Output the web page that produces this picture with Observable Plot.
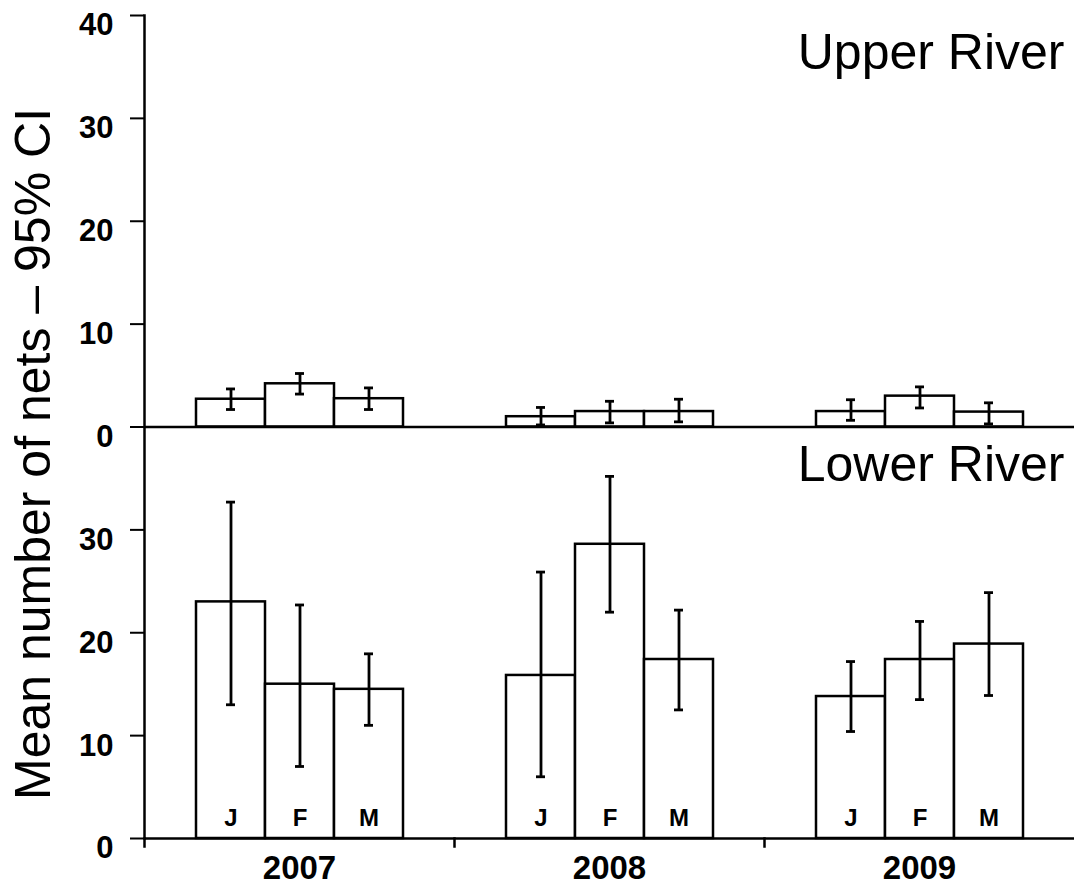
<!DOCTYPE html>
<html>
<head>
<meta charset="utf-8">
<script src="https://cdn.jsdelivr.net/npm/d3@7"></script>
<script src="https://cdn.jsdelivr.net/npm/@observablehq/plot@0.6"></script>
<style>
  html, body { margin: 0; padding: 0; background: #fff; }
</style>
</head>
<body>
<div id="chart"></div>
<script>
// ---- data ----
const years = ["2007", "2008", "2009"];
const months = ["J", "F", "M"];
const panels = ["Upper River", "Lower River"];

// order: 2007 J,F,M, 2008 J,F,M, 2009 J,F,M
const upperMean = [2.7, 4.2, 2.75, 1.0, 1.5, 1.5, 1.5, 3.0, 1.45];
const upperLo   = [1.7, 3.2, 1.7, 0.2, 0.4, 0.5, 0.65, 1.85, 0.3];
const upperHi   = [3.7, 5.2, 3.8, 1.9, 2.5, 2.7, 2.65, 3.9, 2.35];

const lowerMean = [23.0, 15.0, 14.5, 15.85, 28.6, 17.4, 13.8, 17.4, 18.9];
const lowerLo   = [13.0, 7.0, 11.0, 6.0, 22.0, 12.5, 10.4, 13.5, 13.9];
const lowerHi   = [32.7, 22.7, 17.95, 25.9, 35.2, 22.2, 17.2, 21.1, 23.9];

const upperTicks = [0, 10, 20, 30, 40];
const lowerTicks = [0, 10, 20, 30];
const panelSpan = 40; // each panel spans 0–40

// ---- build table ----
const rows = [];
function addPanel(panel, base, mean, lo, hi) {
  years.forEach((yr, i) => months.forEach((m, j) => {
    const k = i * months.length + j;
    rows.push({panel, base, year: yr, month: m, mean: mean[k], lo: lo[k], hi: hi[k]});
  }));
}
addPanel(panels[0], panelSpan, upperMean, upperLo, upperHi);
addPanel(panels[1], 0, lowerMean, lowerLo, lowerHi);

const monthRows = rows.filter(d => d.panel === panels[1]);
const labelRows = [
  {panel: panels[0], top: 2 * panelSpan, year: years[years.length - 1]},
  {panel: panels[1], top: panelSpan, year: years[years.length - 1]}
];
const allTicks = lowerTicks.concat(upperTicks.map(v => v + panelSpan));
const fmt = d => (d >= panelSpan ? d - panelSpan : d);

const font = "Liberation Sans, Arial, Helvetica, sans-serif";

const chart = Plot.plot({
  width: 1079,
  height: 891,
  marginLeft: 143,
  marginRight: 4,
  marginTop: 15,
  marginBottom: 53,
  style: {fontFamily: font, background: "#fff", color: "#000", overflow: "visible"},
  fx: {domain: years, padding: 0, label: null},
  x: {domain: months, paddingInner: 0, paddingOuter: 0.73, axis: null},
  y: {domain: [0, 2 * panelSpan]},
  marks: [
    // y axis line (leftmost facet only)
    Plot.frame({anchor: "left", facetAnchor: "left", stroke: "#000", strokeWidth: 2.5}),
    // small ticks below the x axis at the year boundaries
    Plot.frame({anchor: "left", facetAnchor: "bottom", insetTop: 823, insetBottom: -8, stroke: "#000", strokeWidth: 2.5}),
    // bars
    Plot.barY(rows, {
      fx: "year", x: "month",
      y1: d => d.base, y2: d => d.base + d.mean,
      fill: "#fff", stroke: "#000", strokeWidth: 2.5
    }),
    // error bars
    Plot.ruleX(rows, {
      fx: "year", x: "month",
      y1: d => d.base + d.lo, y2: d => d.base + d.hi,
      stroke: "#000", strokeWidth: 2.8
    }),
    Plot.tickY(rows, {
      fx: "year", x: "month", y: d => d.base + d.lo,
      insetLeft: 30, insetRight: 30, stroke: "#000", strokeWidth: 2.8
    }),
    Plot.tickY(rows, {
      fx: "year", x: "month", y: d => d.base + d.hi,
      insetLeft: 30, insetRight: 30, stroke: "#000", strokeWidth: 2.8
    }),
    // baselines
    Plot.ruleY([0, panelSpan], {stroke: "#000", strokeWidth: 2.5}),
    // month letters
    Plot.text(monthRows, {
      fx: "year", x: "month", y: 0, text: "month",
      dy: -20, fontSize: 24, fontWeight: "bold", fill: "#000"
    }),
    // panel labels
    Plot.text(labelRows, {
      fx: "year", y: "top", text: "panel", frameAnchor: "right",
      textAnchor: "end", dx: -10, dy: 37.5, fontSize: 50, fill: "#000"
    }),
    // y axis ticks
    Plot.axisY(allTicks, {
      anchor: "left", tickSize: 14, text: null, strokeWidth: 2, label: null
    }),
    // y axis labels (set slightly below their ticks, as in the reference)
    Plot.axisY(allTicks, {
      anchor: "left", tickSize: 0, tickPadding: 31, tickFormat: fmt,
      fontSize: 31, fontWeight: "bold", dy: 10, label: null, fill: "#000"
    }),
    // y label
    Plot.text([{year: years[0], t: "Mean number of nets – 95% CI"}], {
      fx: "year", text: "t", frameAnchor: "left", textAnchor: "middle",
      rotate: -90, dx: -111, dy: 27, fontSize: 50, fill: "#000"
    }),
    // year axis
    Plot.axisFx({
      anchor: "bottom", tickSize: 0, tickPadding: 17, label: null,
      fontSize: 33, fontWeight: "bold", fill: "#000"
    })
  ]
});

document.getElementById("chart").appendChild(chart);
</script>
</body>
</html>
